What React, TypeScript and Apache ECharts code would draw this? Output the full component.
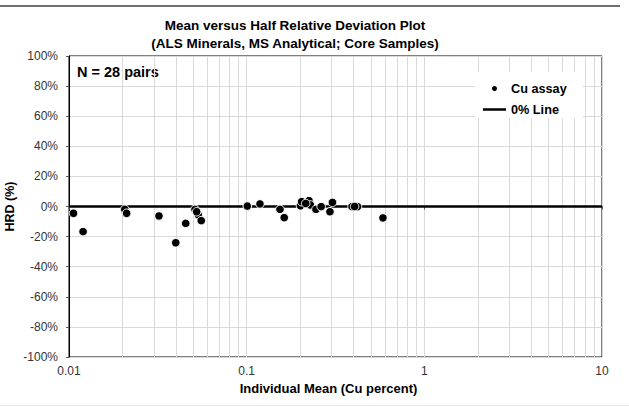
import React, { useEffect, useRef } from "react";
import * as echarts from "echarts";

const FONT = "'Liberation Sans', Arial, Helvetica, sans-serif";

const chartTitle = "Mean versus Half Relative Deviation Plot";
const chartSubtitle = "(ALS Minerals, MS Analytical; Core Samples)";
const xAxisName = "Individual Mean (Cu percent)";
const yAxisName = "HRD (%)";
const seriesNames = ["Cu assay", "0% Line"];

// Individual mean (Cu %) and half relative deviation (%) per pair
const meanCu = [
  0.0106, 0.012, 0.0206, 0.0211, 0.0321, 0.0399, 0.0454, 0.0512, 0.0534, 0.0555,
  0.1008, 0.1188, 0.154, 0.1627, 0.2008, 0.204, 0.2242, 0.2286, 0.2455, 0.2626,
  0.2943, 0.304, 0.3915, 0.4203, 0.585, 0.0523, 0.215, 0.405,
];
const hrdPct = [
  -4.5, -16.7, -1.9, -4.5, -6.3, -24.1, -11.2, -1.9, -5.6, -9.4,
  0.3, 1.7, -1.9, -7.4, 0.5, 3.2, 3.9, 1.0, -1.9, -0.1,
  -3.5, 2.7, -0.1, -0.1, -7.6, -3.5, 2.0, 0.0,
];

const zeroLineX = [0.01, 10];
const zeroLineY = [0, 0];

const xTickLabels = ["0.01", "0.1", "1", "10"];
const decades = [0.01, 0.1, 1];
const minorMultipliers = [2, 3, 4, 5, 6, 7, 8, 9];

export default function App() {
  const ref = useRef<HTMLDivElement>(null);

  useEffect(() => {
    if (!ref.current) return;
    const chart = echarts.init(ref.current, null, { renderer: "svg" });

    const minorTicks: number[] = [];
    decades.forEach((d) =>
      minorMultipliers.forEach((m) => minorTicks.push(parseFloat((d * m).toPrecision(3))))
    );

    const option = {
      animation: false,
      backgroundColor: "#ffffff",
      textStyle: { fontFamily: FONT },
      title: {
        text: chartTitle + "\n" + chartSubtitle,
        left: 295,
        top: 16,
        textAlign: "center",
        padding: 0,
        textStyle: {
          fontFamily: FONT,
          fontSize: 13.5,
          fontWeight: "bold",
          color: "#000",
          lineHeight: 18,
        },
      },
      legend: {
        data: [
          { name: seriesNames[0] },
          { name: seriesNames[1], icon: "path://M0,0H23V2.5H0Z" },
        ],
        orient: "vertical",
        left: 475,
        top: 72,
        z: 10,
        itemWidth: 23,
        itemHeight: 7,
        itemGap: 8,
        padding: [10, 16, 2, 8],
        backgroundColor: "#ffffff",
        selectedMode: false,
        textStyle: {
          fontFamily: FONT,
          fontSize: 12.7,
          fontWeight: "bold",
          color: "#000",
          lineHeight: 13,
        },
      },
      grid: {
        left: 69,
        right: 27,
        top: 56,
        bottom: 50,
        containLabel: false,
        outerBoundsMode: "none",
        show: true,
        borderColor: "#000",
        borderWidth: 1,
        backgroundColor: "transparent",
      },
      xAxis: {
        type: "log",
        logBase: 10,
        min: 0.01,
        max: 10,
        name: xAxisName,
        nameLocation: "middle",
        nameGap: 25,
        nameMoveOverlap: false,
        nameTextStyle: {
          fontFamily: FONT,
          fontSize: 13,
          fontWeight: "bold",
          color: "#000",
          padding: [0, 14, 0, 0],
        },
        axisLine: { show: true, lineStyle: { color: "#000", width: 1 } },
        axisTick: { show: true, length: 3, lineStyle: { color: "#595959" } },
        axisLabel: {
          margin: 8,
          fontSize: 12,
          color: "#333",
          fontFamily: FONT,
          formatter: (_v: number, idx: number) => xTickLabels[idx] ?? "",
        },
        splitLine: { show: true, lineStyle: { color: "#d9d9d9", width: 1 } },
      },
      yAxis: {
        type: "value",
        min: -100,
        max: 100,
        interval: 20,
        name: yAxisName,
        nameLocation: "middle",
        nameGap: 52,
        nameMoveOverlap: false,
        nameTextStyle: {
          fontFamily: FONT,
          fontSize: 12.5,
          fontWeight: "bold",
          color: "#000",
          lineHeight: 14,
        },
        axisLine: { show: true, lineStyle: { color: "#000", width: 1 } },
        axisTick: { show: true, length: 3, lineStyle: { color: "#595959" } },
        axisLabel: {
          margin: 11,
          fontSize: 12,
          color: "#333",
          fontFamily: FONT,
          formatter: "{value}%",
        },
        splitLine: { show: true, lineStyle: { color: "#d9d9d9", width: 1 } },
      },
      graphic: [
        {
          type: "line",
          silent: true,
          shape: { x1: 0, y1: 6, x2: 620, y2: 6 },
          style: { stroke: "#404040", lineWidth: 1.5 },
        },
        {
          type: "line",
          silent: true,
          shape: { x1: 0, y1: 405.5, x2: 629, y2: 405.5 },
          style: { stroke: "#e8e8e8", lineWidth: 1 },
        },
        {
          type: "text",
          silent: true,
          x: 77,
          y: 72,
          style: {
            text: `N = ${meanCu.length} pairs`,
            fontFamily: FONT,
            fontSize: 14.5,
            fontWeight: "bold",
            fill: "#000",
            verticalAlign: "middle",
          },
        },
      ],
      series: [
        {
          name: "minor-grid",
          type: "line",
          data: [],
          z: 0,
          silent: true,
          markLine: {
            z: 0,
            silent: true,
            symbol: ["none", "none"],
            label: { show: false },
            lineStyle: { color: "#d9d9d9", width: 1, type: "solid" },
            emphasis: { disabled: true },
            data: minorTicks.map((v) => ({ xAxis: v })),
          },
        },
        {
          name: seriesNames[1],
          type: "line",
          data: zeroLineX.map((x, i) => [x, zeroLineY[i]]),
          symbol: "none",
          lineStyle: { color: "#000", width: 2.5 },
          itemStyle: { color: "#000" },
          z: 3,
          silent: true,
        },
        {
          name: seriesNames[0],
          type: "scatter",
          data: meanCu.map((x, i) => [x, hrdPct[i]]),
          symbol: "circle",
          symbolSize: 8.5,
          itemStyle: { color: "#000", borderColor: "#fff", borderWidth: 1, opacity: 1 },
          z: 4,
        },
      ],
    };

    chart.setOption(option as any);
    return () => chart.dispose();
  }, []);

  return (
    <div
      ref={ref}
      style={{ position: "fixed", left: 0, top: 0, width: 629, height: 407 }}
    />
  );
}
